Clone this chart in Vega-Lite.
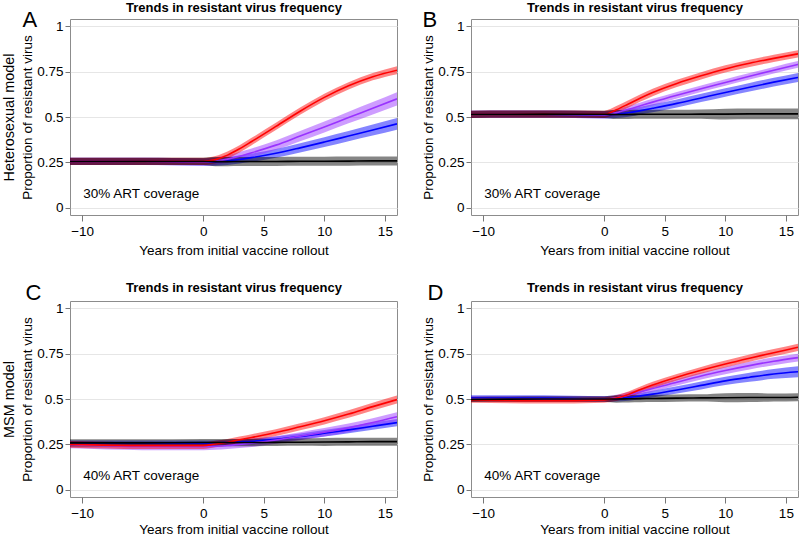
{
"$schema": "https://vega.github.io/schema/vega-lite/v6.json",
"autosize": {"type": "pad"},
"padding": {"left": 0, "top": 0, "right": 0, "bottom": 0},
"background": "white",
"config": {
 "font": "Liberation Sans",
 "view": {"stroke": "#8c8c8c", "strokeWidth": 1},
 "axis": {"domain": false, "grid": false, "tickColor": "#777", "tickSize": 6, "labelFontSize": 13.5, "labelColor": "#000", "titleFontSize": 13.5, "titleFontWeight": "normal", "titleColor": "#000"},
 "legend": {"orient": "none", "legendX": 12.7, "legendY": 11, "padding": 0, "titleFontSize": 6, "labelFontSize": 6, "titleFontWeight": "normal", "titleColor": "#000", "labelColor": "#000", "symbolType": "M-2,0L2,0", "symbolSize": 36, "symbolStrokeWidth": 1.5, "symbolOffset": 18, "labelOffset": 9, "rowPadding": 1.9, "titlePadding": 4}
},
"datasets": {
"d": [
{"p":"A","s":"50%","t":-11,"m":0.255,"lo":0.235,"hi":0.275},
{"p":"A","s":"50%","t":-5,"m":0.256,"lo":0.236,"hi":0.276},
{"p":"A","s":"50%","t":0,"m":0.252,"lo":0.232,"hi":0.272},
{"p":"A","s":"50%","t":1,"m":0.253,"lo":0.232,"hi":0.274},
{"p":"A","s":"50%","t":2,"m":0.258,"lo":0.236,"hi":0.280},
{"p":"A","s":"50%","t":3,"m":0.266,"lo":0.244,"hi":0.288},
{"p":"A","s":"50%","t":4,"m":0.276,"lo":0.253,"hi":0.299},
{"p":"A","s":"50%","t":6,"m":0.300,"lo":0.276,"hi":0.324},
{"p":"A","s":"50%","t":8,"m":0.330,"lo":0.305,"hi":0.355},
{"p":"A","s":"50%","t":10,"m":0.362,"lo":0.335,"hi":0.389},
{"p":"A","s":"50%","t":12,"m":0.395,"lo":0.367,"hi":0.423},
{"p":"A","s":"50%","t":14,"m":0.428,"lo":0.398,"hi":0.458},
{"p":"A","s":"50%","t":16,"m":0.462,"lo":0.430,"hi":0.494},
{"p":"A","s":"70%","t":-11,"m":0.255,"lo":0.235,"hi":0.275},
{"p":"A","s":"70%","t":-5,"m":0.256,"lo":0.236,"hi":0.276},
{"p":"A","s":"70%","t":0,"m":0.253,"lo":0.233,"hi":0.273},
{"p":"A","s":"70%","t":1,"m":0.257,"lo":0.236,"hi":0.278},
{"p":"A","s":"70%","t":2,"m":0.268,"lo":0.246,"hi":0.290},
{"p":"A","s":"70%","t":3,"m":0.284,"lo":0.261,"hi":0.307},
{"p":"A","s":"70%","t":4,"m":0.303,"lo":0.279,"hi":0.327},
{"p":"A","s":"70%","t":6,"m":0.345,"lo":0.319,"hi":0.371},
{"p":"A","s":"70%","t":8,"m":0.395,"lo":0.367,"hi":0.423},
{"p":"A","s":"70%","t":10,"m":0.445,"lo":0.415,"hi":0.475},
{"p":"A","s":"70%","t":12,"m":0.497,"lo":0.465,"hi":0.529},
{"p":"A","s":"70%","t":14,"m":0.548,"lo":0.514,"hi":0.582},
{"p":"A","s":"70%","t":16,"m":0.600,"lo":0.564,"hi":0.636},
{"p":"A","s":"90%","t":-11,"m":0.255,"lo":0.235,"hi":0.275},
{"p":"A","s":"90%","t":-5,"m":0.256,"lo":0.236,"hi":0.276},
{"p":"A","s":"90%","t":0,"m":0.255,"lo":0.235,"hi":0.275},
{"p":"A","s":"90%","t":1,"m":0.265,"lo":0.245,"hi":0.285},
{"p":"A","s":"90%","t":2,"m":0.290,"lo":0.270,"hi":0.310},
{"p":"A","s":"90%","t":3,"m":0.325,"lo":0.305,"hi":0.345},
{"p":"A","s":"90%","t":4,"m":0.365,"lo":0.345,"hi":0.385},
{"p":"A","s":"90%","t":6,"m":0.448,"lo":0.428,"hi":0.468},
{"p":"A","s":"90%","t":8,"m":0.532,"lo":0.512,"hi":0.552},
{"p":"A","s":"90%","t":10,"m":0.608,"lo":0.588,"hi":0.628},
{"p":"A","s":"90%","t":12,"m":0.672,"lo":0.652,"hi":0.692},
{"p":"A","s":"90%","t":14,"m":0.722,"lo":0.702,"hi":0.742},
{"p":"A","s":"90%","t":16,"m":0.758,"lo":0.736,"hi":0.780},
{"p":"A","s":"No vaccine","t":-11,"m":0.255,"lo":0.235,"hi":0.275},
{"p":"A","s":"No vaccine","t":-5,"m":0.256,"lo":0.236,"hi":0.276},
{"p":"A","s":"No vaccine","t":0,"m":0.255,"lo":0.235,"hi":0.275},
{"p":"A","s":"No vaccine","t":1,"m":0.254,"lo":0.229,"hi":0.279},
{"p":"A","s":"No vaccine","t":2,"m":0.254,"lo":0.229,"hi":0.279},
{"p":"A","s":"No vaccine","t":3,"m":0.255,"lo":0.230,"hi":0.280},
{"p":"A","s":"No vaccine","t":4,"m":0.255,"lo":0.230,"hi":0.280},
{"p":"A","s":"No vaccine","t":6,"m":0.255,"lo":0.230,"hi":0.280},
{"p":"A","s":"No vaccine","t":8,"m":0.256,"lo":0.231,"hi":0.281},
{"p":"A","s":"No vaccine","t":10,"m":0.256,"lo":0.231,"hi":0.281},
{"p":"A","s":"No vaccine","t":12,"m":0.257,"lo":0.232,"hi":0.282},
{"p":"A","s":"No vaccine","t":14,"m":0.258,"lo":0.233,"hi":0.283},
{"p":"A","s":"No vaccine","t":16,"m":0.258,"lo":0.233,"hi":0.283},

{"p":"B","s":"50%","t":-11,"m":0.515,"lo":0.495,"hi":0.535},
{"p":"B","s":"50%","t":-5,"m":0.516,"lo":0.496,"hi":0.536},
{"p":"B","s":"50%","t":0,"m":0.512,"lo":0.492,"hi":0.532},
{"p":"B","s":"50%","t":1,"m":0.515,"lo":0.495,"hi":0.535},
{"p":"B","s":"50%","t":2,"m":0.523,"lo":0.502,"hi":0.544},
{"p":"B","s":"50%","t":3,"m":0.535,"lo":0.514,"hi":0.556},
{"p":"B","s":"50%","t":4,"m":0.548,"lo":0.526,"hi":0.570},
{"p":"B","s":"50%","t":6,"m":0.575,"lo":0.553,"hi":0.597},
{"p":"B","s":"50%","t":8,"m":0.605,"lo":0.582,"hi":0.628},
{"p":"B","s":"50%","t":10,"m":0.635,"lo":0.612,"hi":0.658},
{"p":"B","s":"50%","t":12,"m":0.664,"lo":0.640,"hi":0.688},
{"p":"B","s":"50%","t":14,"m":0.692,"lo":0.668,"hi":0.716},
{"p":"B","s":"50%","t":16,"m":0.718,"lo":0.693,"hi":0.743},
{"p":"B","s":"70%","t":-11,"m":0.515,"lo":0.495,"hi":0.535},
{"p":"B","s":"70%","t":-5,"m":0.516,"lo":0.496,"hi":0.536},
{"p":"B","s":"70%","t":0,"m":0.513,"lo":0.493,"hi":0.533},
{"p":"B","s":"70%","t":1,"m":0.524,"lo":0.506,"hi":0.542},
{"p":"B","s":"70%","t":2,"m":0.542,"lo":0.524,"hi":0.560},
{"p":"B","s":"70%","t":3,"m":0.562,"lo":0.544,"hi":0.580},
{"p":"B","s":"70%","t":4,"m":0.582,"lo":0.564,"hi":0.600},
{"p":"B","s":"70%","t":6,"m":0.620,"lo":0.602,"hi":0.638},
{"p":"B","s":"70%","t":8,"m":0.656,"lo":0.638,"hi":0.674},
{"p":"B","s":"70%","t":10,"m":0.690,"lo":0.672,"hi":0.708},
{"p":"B","s":"70%","t":12,"m":0.724,"lo":0.706,"hi":0.742},
{"p":"B","s":"70%","t":14,"m":0.758,"lo":0.740,"hi":0.776},
{"p":"B","s":"70%","t":16,"m":0.790,"lo":0.772,"hi":0.808},
{"p":"B","s":"90%","t":-11,"m":0.515,"lo":0.495,"hi":0.535},
{"p":"B","s":"90%","t":-5,"m":0.516,"lo":0.496,"hi":0.536},
{"p":"B","s":"90%","t":0,"m":0.515,"lo":0.495,"hi":0.535},
{"p":"B","s":"90%","t":1,"m":0.540,"lo":0.520,"hi":0.560},
{"p":"B","s":"90%","t":2,"m":0.572,"lo":0.552,"hi":0.592},
{"p":"B","s":"90%","t":3,"m":0.605,"lo":0.585,"hi":0.625},
{"p":"B","s":"90%","t":4,"m":0.635,"lo":0.615,"hi":0.655},
{"p":"B","s":"90%","t":6,"m":0.685,"lo":0.665,"hi":0.705},
{"p":"B","s":"90%","t":8,"m":0.727,"lo":0.707,"hi":0.747},
{"p":"B","s":"90%","t":10,"m":0.765,"lo":0.745,"hi":0.785},
{"p":"B","s":"90%","t":12,"m":0.796,"lo":0.776,"hi":0.816},
{"p":"B","s":"90%","t":14,"m":0.823,"lo":0.803,"hi":0.843},
{"p":"B","s":"90%","t":16,"m":0.848,"lo":0.828,"hi":0.868},
{"p":"B","s":"No vaccine","t":-11,"m":0.515,"lo":0.495,"hi":0.535},
{"p":"B","s":"No vaccine","t":-5,"m":0.516,"lo":0.496,"hi":0.536},
{"p":"B","s":"No vaccine","t":0,"m":0.515,"lo":0.495,"hi":0.535},
{"p":"B","s":"No vaccine","t":1,"m":0.514,"lo":0.489,"hi":0.539},
{"p":"B","s":"No vaccine","t":2,"m":0.514,"lo":0.489,"hi":0.539},
{"p":"B","s":"No vaccine","t":3,"m":0.515,"lo":0.490,"hi":0.540},
{"p":"B","s":"No vaccine","t":4,"m":0.515,"lo":0.490,"hi":0.540},
{"p":"B","s":"No vaccine","t":6,"m":0.515,"lo":0.490,"hi":0.540},
{"p":"B","s":"No vaccine","t":8,"m":0.516,"lo":0.491,"hi":0.541},
{"p":"B","s":"No vaccine","t":10,"m":0.516,"lo":0.486,"hi":0.546},
{"p":"B","s":"No vaccine","t":12,"m":0.517,"lo":0.487,"hi":0.547},
{"p":"B","s":"No vaccine","t":14,"m":0.517,"lo":0.487,"hi":0.547},
{"p":"B","s":"No vaccine","t":16,"m":0.517,"lo":0.487,"hi":0.547},

{"p":"C","s":"50%","t":-11,"m":0.256,"lo":0.241,"hi":0.271},
{"p":"C","s":"50%","t":-5,"m":0.256,"lo":0.241,"hi":0.271},
{"p":"C","s":"50%","t":0,"m":0.256,"lo":0.241,"hi":0.271},
{"p":"C","s":"50%","t":1,"m":0.258,"lo":0.243,"hi":0.273},
{"p":"C","s":"50%","t":2,"m":0.261,"lo":0.246,"hi":0.276},
{"p":"C","s":"50%","t":3,"m":0.264,"lo":0.249,"hi":0.279},
{"p":"C","s":"50%","t":4,"m":0.267,"lo":0.251,"hi":0.283},
{"p":"C","s":"50%","t":6,"m":0.278,"lo":0.262,"hi":0.294},
{"p":"C","s":"50%","t":8,"m":0.293,"lo":0.276,"hi":0.310},
{"p":"C","s":"50%","t":10,"m":0.311,"lo":0.293,"hi":0.329},
{"p":"C","s":"50%","t":12,"m":0.330,"lo":0.311,"hi":0.349},
{"p":"C","s":"50%","t":14,"m":0.350,"lo":0.330,"hi":0.370},
{"p":"C","s":"50%","t":16,"m":0.370,"lo":0.350,"hi":0.390},
{"p":"C","s":"70%","t":-11,"m":0.248,"lo":0.228,"hi":0.268},
{"p":"C","s":"70%","t":-5,"m":0.238,"lo":0.218,"hi":0.258},
{"p":"C","s":"70%","t":0,"m":0.237,"lo":0.217,"hi":0.257},
{"p":"C","s":"70%","t":1,"m":0.240,"lo":0.220,"hi":0.260},
{"p":"C","s":"70%","t":2,"m":0.244,"lo":0.224,"hi":0.264},
{"p":"C","s":"70%","t":3,"m":0.250,"lo":0.230,"hi":0.270},
{"p":"C","s":"70%","t":4,"m":0.257,"lo":0.236,"hi":0.278},
{"p":"C","s":"70%","t":6,"m":0.274,"lo":0.253,"hi":0.295},
{"p":"C","s":"70%","t":8,"m":0.295,"lo":0.273,"hi":0.317},
{"p":"C","s":"70%","t":10,"m":0.317,"lo":0.294,"hi":0.340},
{"p":"C","s":"70%","t":12,"m":0.341,"lo":0.317,"hi":0.365},
{"p":"C","s":"70%","t":14,"m":0.370,"lo":0.346,"hi":0.394},
{"p":"C","s":"70%","t":16,"m":0.402,"lo":0.377,"hi":0.427},
{"p":"C","s":"90%","t":-11,"m":0.250,"lo":0.232,"hi":0.268},
{"p":"C","s":"90%","t":-5,"m":0.243,"lo":0.225,"hi":0.261},
{"p":"C","s":"90%","t":0,"m":0.243,"lo":0.225,"hi":0.261},
{"p":"C","s":"90%","t":1,"m":0.252,"lo":0.234,"hi":0.270},
{"p":"C","s":"90%","t":2,"m":0.262,"lo":0.244,"hi":0.280},
{"p":"C","s":"90%","t":3,"m":0.275,"lo":0.257,"hi":0.293},
{"p":"C","s":"90%","t":4,"m":0.288,"lo":0.270,"hi":0.306},
{"p":"C","s":"90%","t":6,"m":0.315,"lo":0.296,"hi":0.334},
{"p":"C","s":"90%","t":8,"m":0.347,"lo":0.328,"hi":0.366},
{"p":"C","s":"90%","t":10,"m":0.380,"lo":0.360,"hi":0.400},
{"p":"C","s":"90%","t":12,"m":0.417,"lo":0.396,"hi":0.438},
{"p":"C","s":"90%","t":14,"m":0.458,"lo":0.437,"hi":0.479},
{"p":"C","s":"90%","t":16,"m":0.497,"lo":0.475,"hi":0.519},
{"p":"C","s":"No vaccine","t":-11,"m":0.258,"lo":0.238,"hi":0.278},
{"p":"C","s":"No vaccine","t":-5,"m":0.258,"lo":0.238,"hi":0.278},
{"p":"C","s":"No vaccine","t":0,"m":0.260,"lo":0.240,"hi":0.280},
{"p":"C","s":"No vaccine","t":1,"m":0.260,"lo":0.240,"hi":0.280},
{"p":"C","s":"No vaccine","t":2,"m":0.260,"lo":0.240,"hi":0.280},
{"p":"C","s":"No vaccine","t":3,"m":0.260,"lo":0.240,"hi":0.280},
{"p":"C","s":"No vaccine","t":4,"m":0.260,"lo":0.240,"hi":0.280},
{"p":"C","s":"No vaccine","t":6,"m":0.261,"lo":0.241,"hi":0.281},
{"p":"C","s":"No vaccine","t":8,"m":0.262,"lo":0.242,"hi":0.282},
{"p":"C","s":"No vaccine","t":10,"m":0.263,"lo":0.241,"hi":0.285},
{"p":"C","s":"No vaccine","t":12,"m":0.264,"lo":0.242,"hi":0.286},
{"p":"C","s":"No vaccine","t":14,"m":0.265,"lo":0.243,"hi":0.287},
{"p":"C","s":"No vaccine","t":16,"m":0.265,"lo":0.243,"hi":0.287},

{"p":"D","s":"50%","t":-11,"m":0.505,"lo":0.490,"hi":0.520},
{"p":"D","s":"50%","t":-5,"m":0.505,"lo":0.490,"hi":0.520},
{"p":"D","s":"50%","t":0,"m":0.500,"lo":0.485,"hi":0.515},
{"p":"D","s":"50%","t":1,"m":0.502,"lo":0.486,"hi":0.518},
{"p":"D","s":"50%","t":2,"m":0.508,"lo":0.491,"hi":0.525},
{"p":"D","s":"50%","t":3,"m":0.517,"lo":0.499,"hi":0.535},
{"p":"D","s":"50%","t":4,"m":0.527,"lo":0.508,"hi":0.546},
{"p":"D","s":"50%","t":6,"m":0.550,"lo":0.530,"hi":0.570},
{"p":"D","s":"50%","t":8,"m":0.575,"lo":0.553,"hi":0.597},
{"p":"D","s":"50%","t":10,"m":0.600,"lo":0.577,"hi":0.623},
{"p":"D","s":"50%","t":12,"m":0.620,"lo":0.595,"hi":0.645},
{"p":"D","s":"50%","t":14,"m":0.638,"lo":0.611,"hi":0.665},
{"p":"D","s":"50%","t":16,"m":0.650,"lo":0.620,"hi":0.680},
{"p":"D","s":"70%","t":-11,"m":0.500,"lo":0.485,"hi":0.515},
{"p":"D","s":"70%","t":-5,"m":0.500,"lo":0.485,"hi":0.515},
{"p":"D","s":"70%","t":0,"m":0.500,"lo":0.485,"hi":0.515},
{"p":"D","s":"70%","t":1,"m":0.507,"lo":0.491,"hi":0.523},
{"p":"D","s":"70%","t":2,"m":0.522,"lo":0.506,"hi":0.538},
{"p":"D","s":"70%","t":3,"m":0.540,"lo":0.523,"hi":0.557},
{"p":"D","s":"70%","t":4,"m":0.558,"lo":0.541,"hi":0.575},
{"p":"D","s":"70%","t":6,"m":0.592,"lo":0.574,"hi":0.610},
{"p":"D","s":"70%","t":8,"m":0.627,"lo":0.608,"hi":0.646},
{"p":"D","s":"70%","t":10,"m":0.657,"lo":0.637,"hi":0.677},
{"p":"D","s":"70%","t":12,"m":0.684,"lo":0.663,"hi":0.705},
{"p":"D","s":"70%","t":14,"m":0.708,"lo":0.686,"hi":0.730},
{"p":"D","s":"70%","t":16,"m":0.728,"lo":0.706,"hi":0.750},
{"p":"D","s":"90%","t":-11,"m":0.495,"lo":0.480,"hi":0.510},
{"p":"D","s":"90%","t":-5,"m":0.490,"lo":0.475,"hi":0.505},
{"p":"D","s":"90%","t":0,"m":0.495,"lo":0.480,"hi":0.510},
{"p":"D","s":"90%","t":1,"m":0.505,"lo":0.489,"hi":0.521},
{"p":"D","s":"90%","t":2,"m":0.525,"lo":0.508,"hi":0.542},
{"p":"D","s":"90%","t":3,"m":0.552,"lo":0.535,"hi":0.569},
{"p":"D","s":"90%","t":4,"m":0.577,"lo":0.559,"hi":0.595},
{"p":"D","s":"90%","t":6,"m":0.620,"lo":0.602,"hi":0.638},
{"p":"D","s":"90%","t":8,"m":0.658,"lo":0.639,"hi":0.677},
{"p":"D","s":"90%","t":10,"m":0.693,"lo":0.674,"hi":0.712},
{"p":"D","s":"90%","t":12,"m":0.725,"lo":0.705,"hi":0.745},
{"p":"D","s":"90%","t":14,"m":0.755,"lo":0.735,"hi":0.775},
{"p":"D","s":"90%","t":16,"m":0.785,"lo":0.765,"hi":0.805},
{"p":"D","s":"No vaccine","t":-11,"m":0.498,"lo":0.483,"hi":0.513},
{"p":"D","s":"No vaccine","t":-5,"m":0.500,"lo":0.485,"hi":0.515},
{"p":"D","s":"No vaccine","t":0,"m":0.500,"lo":0.485,"hi":0.515},
{"p":"D","s":"No vaccine","t":1,"m":0.500,"lo":0.480,"hi":0.520},
{"p":"D","s":"No vaccine","t":2,"m":0.501,"lo":0.481,"hi":0.521},
{"p":"D","s":"No vaccine","t":3,"m":0.502,"lo":0.482,"hi":0.522},
{"p":"D","s":"No vaccine","t":4,"m":0.503,"lo":0.483,"hi":0.523},
{"p":"D","s":"No vaccine","t":6,"m":0.505,"lo":0.485,"hi":0.525},
{"p":"D","s":"No vaccine","t":8,"m":0.506,"lo":0.486,"hi":0.526},
{"p":"D","s":"No vaccine","t":10,"m":0.507,"lo":0.482,"hi":0.532},
{"p":"D","s":"No vaccine","t":12,"m":0.508,"lo":0.483,"hi":0.533},
{"p":"D","s":"No vaccine","t":14,"m":0.508,"lo":0.486,"hi":0.530},
{"p":"D","s":"No vaccine","t":16,"m":0.510,"lo":0.488,"hi":0.532}
]
},
"columns": 2,
"spacing": {"row": 86, "column": 74},
"bounds": "flush",
"concat": [
{
"width": 327, "height": 196,
"data": {"name": "d"},
"layer": [
{"transform": [{"filter": "datum.p == 'A'"}],
 "mark": {"type": "area", "opacity": 0.48, "interpolate": "monotone", "clip": true},
 "encoding": {
  "x": {"field": "t", "type": "quantitative", "scale": {"domain": [-11, 16], "nice": false, "zero": false},
        "axis": {"title": "Years from initial vaccine rollout", "values": [-10, 0, 5, 10, 15], "format": "d", "labelPadding": 3, "titleY": 39.5, "titleBaseline": "alphabetic"}},
  "y": {"field": "lo", "type": "quantitative", "scale": {"domain": [-0.04, 1.04], "nice": false, "zero": false},
        "axis": {"title": "Proportion of resistant virus", "values": [0, 0.25, 0.5, 0.75, 1], "format": ".2~f", "grid": true, "gridColor": "#e6e6e6", "tickSize": 5, "labelPadding": 2, "titleX": -39, "titleY": 98, "titleAngle": 270, "titleAlign": "center", "titleBaseline": "alphabetic"}},
  "y2": {"field": "hi"},
  "fill": {"field": "s", "type": "nominal", "scale": {"domain": ["No vaccine", "50%", "70%", "90%"], "range": ["#000000", "#0000FF", "#9933FF", "#FF0000"]}, "legend": null}
 }},
{"transform": [{"filter": "datum.p == 'A'"}],
 "mark": {"type": "line", "strokeWidth": 1.6, "interpolate": "monotone", "clip": true},
 "encoding": {
  "x": {"field": "t", "type": "quantitative", "axis": {"orient": "top", "title": "Trends in resistant virus frequency", "titleY": -8, "titleBaseline": "alphabetic", "titleFontSize": 13, "titleFontWeight": "bold", "labels": false, "ticks": false}},
  "y": {"field": "m", "type": "quantitative", "axis": {"orient": "right", "title": "A", "titleX": -375, "titleY": 7, "titleAngle": 0, "titleAlign": "left", "titleBaseline": "alphabetic", "titleFontSize": 22, "labels": false, "ticks": false}},
  "color": {"field": "s", "type": "nominal", "scale": {"domain": ["No vaccine", "50%", "70%", "90%"], "range": ["#000000", "#0000FF", "#9933FF", "#FF0000"]},
   "legend": {"title": "Vaccine population coverage"}}
 }},
{"data": {"values": [{"label": "30% ART coverage"}]},
 "mark": {"type": "text", "align": "left", "baseline": "alphabetic", "fontSize": 13.5, "color": "#000"},
 "encoding": {"x": {"datum": -9.9, "type": "quantitative", "axis": null},
  "y": {"datum": 0.055, "type": "quantitative", "axis": {"orient": "left", "title": "Heterosexual model", "titleX": -57, "titleY": 98, "titleAngle": 270, "titleAlign": "center", "titleBaseline": "alphabetic", "titleFontSize": 14.4, "labels": false, "ticks": false}},
  "text": {"field": "label"}}}
],
"resolve": {"axis": {"x": "independent", "y": "independent"}}
},
{
"width": 327, "height": 196,
"data": {"name": "d"},
"layer": [
{"transform": [{"filter": "datum.p == 'B'"}],
 "mark": {"type": "area", "opacity": 0.48, "interpolate": "monotone", "clip": true},
 "encoding": {
  "x": {"field": "t", "type": "quantitative", "scale": {"domain": [-11, 16], "nice": false, "zero": false},
        "axis": {"title": "Years from initial vaccine rollout", "values": [-10, 0, 5, 10, 15], "format": "d", "labelPadding": 3, "titleY": 39.5, "titleBaseline": "alphabetic"}},
  "y": {"field": "lo", "type": "quantitative", "scale": {"domain": [-0.04, 1.04], "nice": false, "zero": false},
        "axis": {"title": "Proportion of resistant virus", "values": [0, 0.25, 0.5, 0.75, 1], "format": ".2~f", "grid": true, "gridColor": "#e6e6e6", "tickSize": 5, "labelPadding": 2, "titleX": -39, "titleY": 98, "titleAngle": 270, "titleAlign": "center", "titleBaseline": "alphabetic"}},
  "y2": {"field": "hi"},
  "fill": {"field": "s", "type": "nominal", "scale": {"domain": ["No vaccine", "50%", "70%", "90%"], "range": ["#000000", "#0000FF", "#9933FF", "#FF0000"]}, "legend": null}
 }},
{"transform": [{"filter": "datum.p == 'B'"}],
 "mark": {"type": "line", "strokeWidth": 1.6, "interpolate": "monotone", "clip": true},
 "encoding": {
  "x": {"field": "t", "type": "quantitative", "axis": {"orient": "top", "title": "Trends in resistant virus frequency", "titleY": -8, "titleBaseline": "alphabetic", "titleFontSize": 13, "titleFontWeight": "bold", "labels": false, "ticks": false}},
  "y": {"field": "m", "type": "quantitative", "axis": {"orient": "right", "title": "B", "titleX": -376, "titleY": 7, "titleAngle": 0, "titleAlign": "left", "titleBaseline": "alphabetic", "titleFontSize": 22, "labels": false, "ticks": false}},
  "color": {"field": "s", "type": "nominal", "scale": {"domain": ["No vaccine", "50%", "70%", "90%"], "range": ["#000000", "#0000FF", "#9933FF", "#FF0000"]},
   "legend": {"title": "Overall vaccination coverage"}}
 }},
{"data": {"values": [{"label": "30% ART coverage"}]},
 "mark": {"type": "text", "align": "left", "baseline": "alphabetic", "fontSize": 13.5, "color": "#000"},
 "encoding": {"x": {"datum": -9.9, "type": "quantitative", "axis": null}, "y": {"datum": 0.055, "type": "quantitative", "axis": null}, "text": {"field": "label"}}}
],
"resolve": {"axis": {"x": "independent", "y": "independent"}}
},
{
"width": 327, "height": 196,
"data": {"name": "d"},
"layer": [
{"transform": [{"filter": "datum.p == 'C'"}],
 "mark": {"type": "area", "opacity": 0.48, "interpolate": "monotone", "clip": true},
 "encoding": {
  "x": {"field": "t", "type": "quantitative", "scale": {"domain": [-11, 16], "nice": false, "zero": false},
        "axis": {"title": "Years from initial vaccine rollout", "values": [-10, 0, 5, 10, 15], "format": "d", "labelPadding": 3, "titleY": 36, "titleBaseline": "alphabetic"}},
  "y": {"field": "lo", "type": "quantitative", "scale": {"domain": [-0.04, 1.04], "nice": false, "zero": false},
        "axis": {"title": "Proportion of resistant virus", "values": [0, 0.25, 0.5, 0.75, 1], "format": ".2~f", "grid": true, "gridColor": "#e6e6e6", "tickSize": 5, "labelPadding": 2, "titleX": -39, "titleY": 98, "titleAngle": 270, "titleAlign": "center", "titleBaseline": "alphabetic"}},
  "y2": {"field": "hi"},
  "fill": {"field": "s", "type": "nominal", "scale": {"domain": ["No vaccine", "50%", "70%", "90%"], "range": ["#000000", "#0000FF", "#9933FF", "#FF0000"]}, "legend": null}
 }},
{"transform": [{"filter": "datum.p == 'C'"}],
 "mark": {"type": "line", "strokeWidth": 1.6, "interpolate": "monotone", "clip": true},
 "encoding": {
  "x": {"field": "t", "type": "quantitative", "axis": {"orient": "top", "title": "Trends in resistant virus frequency", "titleY": -9.5, "titleBaseline": "alphabetic", "titleFontSize": 13, "titleFontWeight": "bold", "labels": false, "ticks": false}},
  "y": {"field": "m", "type": "quantitative", "axis": {"orient": "right", "title": "C", "titleX": -372, "titleY": -2, "titleAngle": 0, "titleAlign": "left", "titleBaseline": "alphabetic", "titleFontSize": 22, "labels": false, "ticks": false}},
  "color": {"field": "s", "type": "nominal", "scale": {"domain": ["No vaccine", "50%", "70%", "90%"], "range": ["#000000", "#0000FF", "#9933FF", "#FF0000"]},
   "legend": {"title": "Vaccine population coverage"}}
 }},
{"data": {"values": [{"label": "40% ART coverage"}]},
 "mark": {"type": "text", "align": "left", "baseline": "alphabetic", "fontSize": 13.5, "color": "#000"},
 "encoding": {"x": {"datum": -9.9, "type": "quantitative", "axis": null},
  "y": {"datum": 0.055, "type": "quantitative", "axis": {"orient": "left", "title": "MSM model", "titleX": -57, "titleY": 98, "titleAngle": 270, "titleAlign": "center", "titleBaseline": "alphabetic", "titleFontSize": 14.4, "labels": false, "ticks": false}},
  "text": {"field": "label"}}}
],
"resolve": {"axis": {"x": "independent", "y": "independent"}}
},
{
"width": 327, "height": 196,
"data": {"name": "d"},
"layer": [
{"transform": [{"filter": "datum.p == 'D'"}],
 "mark": {"type": "area", "opacity": 0.48, "interpolate": "monotone", "clip": true},
 "encoding": {
  "x": {"field": "t", "type": "quantitative", "scale": {"domain": [-11, 16], "nice": false, "zero": false},
        "axis": {"title": "Years from initial vaccine rollout", "values": [-10, 0, 5, 10, 15], "format": "d", "labelPadding": 3, "titleY": 36, "titleBaseline": "alphabetic"}},
  "y": {"field": "lo", "type": "quantitative", "scale": {"domain": [-0.04, 1.04], "nice": false, "zero": false},
        "axis": {"title": "Proportion of resistant virus", "values": [0, 0.25, 0.5, 0.75, 1], "format": ".2~f", "grid": true, "gridColor": "#e6e6e6", "tickSize": 5, "labelPadding": 2, "titleX": -39, "titleY": 98, "titleAngle": 270, "titleAlign": "center", "titleBaseline": "alphabetic"}},
  "y2": {"field": "hi"},
  "fill": {"field": "s", "type": "nominal", "scale": {"domain": ["No vaccine", "50%", "70%", "90%"], "range": ["#000000", "#0000FF", "#9933FF", "#FF0000"]}, "legend": null}
 }},
{"transform": [{"filter": "datum.p == 'D'"}],
 "mark": {"type": "line", "strokeWidth": 1.6, "interpolate": "monotone", "clip": true},
 "encoding": {
  "x": {"field": "t", "type": "quantitative", "axis": {"orient": "top", "title": "Trends in resistant virus frequency", "titleY": -9.5, "titleBaseline": "alphabetic", "titleFontSize": 13, "titleFontWeight": "bold", "labels": false, "ticks": false}},
  "y": {"field": "m", "type": "quantitative", "axis": {"orient": "right", "title": "D", "titleX": -371, "titleY": -2, "titleAngle": 0, "titleAlign": "left", "titleBaseline": "alphabetic", "titleFontSize": 22, "labels": false, "ticks": false}},
  "color": {"field": "s", "type": "nominal", "scale": {"domain": ["No vaccine", "50%", "70%", "90%"], "range": ["#000000", "#0000FF", "#9933FF", "#FF0000"]},
   "legend": {"title": "Vaccine population coverage"}}
 }},
{"data": {"values": [{"label": "40% ART coverage"}]},
 "mark": {"type": "text", "align": "left", "baseline": "alphabetic", "fontSize": 13.5, "color": "#000"},
 "encoding": {"x": {"datum": -9.9, "type": "quantitative", "axis": null}, "y": {"datum": 0.055, "type": "quantitative", "axis": null}, "text": {"field": "label"}}}
],
"resolve": {"axis": {"x": "independent", "y": "independent"}}
}
]
}
